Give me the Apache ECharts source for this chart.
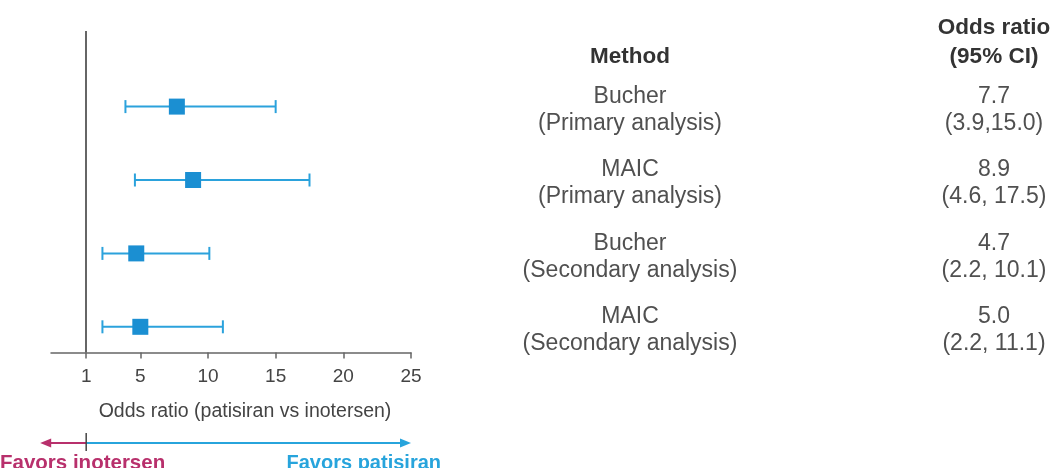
<!DOCTYPE html>
<html>
<head>
<meta charset="utf-8">
<script src="https://cdn.jsdelivr.net/npm/echarts@6/dist/echarts.min.js"></script>
<style>
  html, body { margin: 0; padding: 0; background: #ffffff; }
  #chart { width: 1054px; height: 468px; }
</style>
</head>
<body>
<div id="chart"></div>
<script>
// Forest plot: odds ratios with 95% confidence intervals
const methods   = ['Bucher', 'MAIC', 'Bucher', 'MAIC'];
const analyses  = ['(Primary analysis)', '(Primary analysis)', '(Secondary analysis)', '(Secondary analysis)'];
const oddsRatio = [7.7, 8.9, 4.7, 5.0];
const ciLow     = [3.9, 4.6, 2.2, 2.2];
const ciHigh    = [15.0, 17.5, 10.1, 11.1];
const ciSep     = [',', ', ', ', ', ', '];
const rowIndex  = [1, 2, 3, 4];
const xTicks    = [1, 5, 10, 15, 20, 25];

const FONT = '"Liberation Sans", Arial, Helvetica, sans-serif';
const BAR_BLUE = '#2ba2dc';
const BOX_BLUE = '#1b8fd2';
const TEXT_GREY = '#505050';
const HEAD_GREY = '#333333';
const AXIS_GREY = '#666666';
const INO_RED = '#b8306c';
const PAT_BLUE = '#27a4dc';

const forestData = rowIndex.map((r, i) => [ciLow[i], ciHigh[i], oddsRatio[i], r]);

function renderForest(params, api) {
  const lo = api.coord([api.value(0), api.value(3)]);
  const hi = api.coord([api.value(1), api.value(3)]);
  const mid = api.coord([api.value(2), api.value(3)]);
  const cap = 6.5;
  const box = 16;
  const lineStyle = { stroke: BAR_BLUE, lineWidth: 2 };
  return {
    type: 'group',
    children: [
      { type: 'line', shape: { x1: lo[0], y1: lo[1], x2: hi[0], y2: hi[1] }, style: lineStyle },
      { type: 'line', shape: { x1: lo[0], y1: lo[1] - cap, x2: lo[0], y2: lo[1] + cap }, style: lineStyle },
      { type: 'line', shape: { x1: hi[0], y1: hi[1] - cap, x2: hi[0], y2: hi[1] + cap }, style: lineStyle },
      { type: 'rect', shape: { x: mid[0] - box / 2, y: mid[1] - box / 2, width: box, height: box },
        style: { fill: BOX_BLUE } }
    ]
  };
}

const chart = echarts.init(document.getElementById('chart'), null, { renderer: 'canvas' });

chart.setOption({
  animation: false,
  backgroundColor: '#ffffff',
  grid: { left: 51, right: 643, top: 31, bottom: 115.5 },
  xAxis: {
    type: 'value',
    position: 'bottom',
    min: -1.6,
    max: 25,
    splitLine: { show: false },
    axisLine: { show: true, onZero: false, lineStyle: { color: AXIS_GREY, width: 1.5 } },
    axisTick: { show: true, customValues: xTicks, length: 6, lineStyle: { color: AXIS_GREY, width: 1.5 } },
    axisLabel: { customValues: xTicks, fontSize: 19, color: '#444444', fontFamily: FONT, margin: 15 },
    name: 'Odds ratio (patisiran vs inotersen)',
    nameLocation: 'middle',
    nameGap: 49,
    nameTextStyle: { fontSize: 19.5, color: '#444444', fontFamily: FONT, padding: [0, 0, 0, 28] }
  },
  yAxis: {
    type: 'value',
    inverse: true,
    min: -0.03,
    max: 4.35,
    show: false
  },
  series: [{
    type: 'custom',
    renderItem: renderForest,
    encode: { x: [0, 1, 2], y: 3 },
    data: forestData,
    silent: true,
    clip: false,
    markLine: {
      silent: true,
      symbol: 'none',
      label: { show: false },
      lineStyle: { color: AXIS_GREY, width: 2, type: 'solid' },
      data: [{ xAxis: 1 }]
    }
  }]
});

// Table columns and direction arrows, placed from the axis scale
function drawExtras() {
  const px = v => chart.convertToPixel({ xAxisIndex: 0 }, v);
  const py = v => chart.convertToPixel({ yAxisIndex: 0 }, v);
  const x1 = px(1);
  const x25 = px(25);
  const arrowY = 443;
  const methodX = 630;
  const orX = 994;

  const elements = [];
  elements.push({ type: 'text', x: methodX, y: 57,
    style: { text: 'Method', font: 'bold 22.5px ' + FONT, fill: HEAD_GREY, align: 'center', verticalAlign: 'middle' } });
  elements.push({ type: 'text', x: orX, y: 42.5,
    style: { text: 'Odds ratio\n(95% CI)', font: 'bold 22.5px ' + FONT, fill: HEAD_GREY, align: 'center',
      verticalAlign: 'middle', lineHeight: 29 } });

  rowIndex.forEach((r, i) => {
    const y = py(r) + 3.5;
    elements.push({ type: 'text', x: methodX, y: y,
      style: { text: methods[i] + '\n' + analyses[i], font: '23px ' + FONT, fill: TEXT_GREY,
        align: 'center', verticalAlign: 'middle', lineHeight: 27 } });
    const ci = '(' + ciLow[i].toFixed(1) + ciSep[i] + ciHigh[i].toFixed(1) + ')';
    elements.push({ type: 'text', x: orX, y: y,
      style: { text: oddsRatio[i].toFixed(1) + '\n' + ci, font: '23px ' + FONT, fill: TEXT_GREY,
        align: 'center', verticalAlign: 'middle', lineHeight: 27 } });
  });

  // direction arrows
  const leftTip = x1 - 46;
  elements.push({ type: 'line', shape: { x1: x1, y1: arrowY, x2: leftTip + 8, y2: arrowY },
    style: { stroke: INO_RED, lineWidth: 2 } });
  elements.push({ type: 'polygon', shape: { points: [[leftTip, arrowY], [leftTip + 11, arrowY - 4.5], [leftTip + 11, arrowY + 4.5]] },
    style: { fill: INO_RED } });
  elements.push({ type: 'line', shape: { x1: x1, y1: arrowY, x2: x25 - 8, y2: arrowY },
    style: { stroke: PAT_BLUE, lineWidth: 2 } });
  elements.push({ type: 'polygon', shape: { points: [[x25, arrowY], [x25 - 11, arrowY - 4.5], [x25 - 11, arrowY + 4.5]] },
    style: { fill: PAT_BLUE } });
  elements.push({ type: 'line', shape: { x1: x1, y1: arrowY - 10, x2: x1, y2: arrowY + 8 },
    style: { stroke: '#444444', lineWidth: 1.5 } });

  elements.push({ type: 'text', x: 0, y: 463,
    style: { text: 'Favors inotersen', font: 'bold 20.5px ' + FONT, fill: INO_RED, align: 'left', verticalAlign: 'middle' } });
  elements.push({ type: 'text', x: 441, y: 463,
    style: { text: 'Favors patisiran', font: 'bold 20px ' + FONT, fill: PAT_BLUE, align: 'right', verticalAlign: 'middle' } });

  chart.setOption({ graphic: { elements: elements } });
}
drawExtras();
</script>
</body>
</html>
